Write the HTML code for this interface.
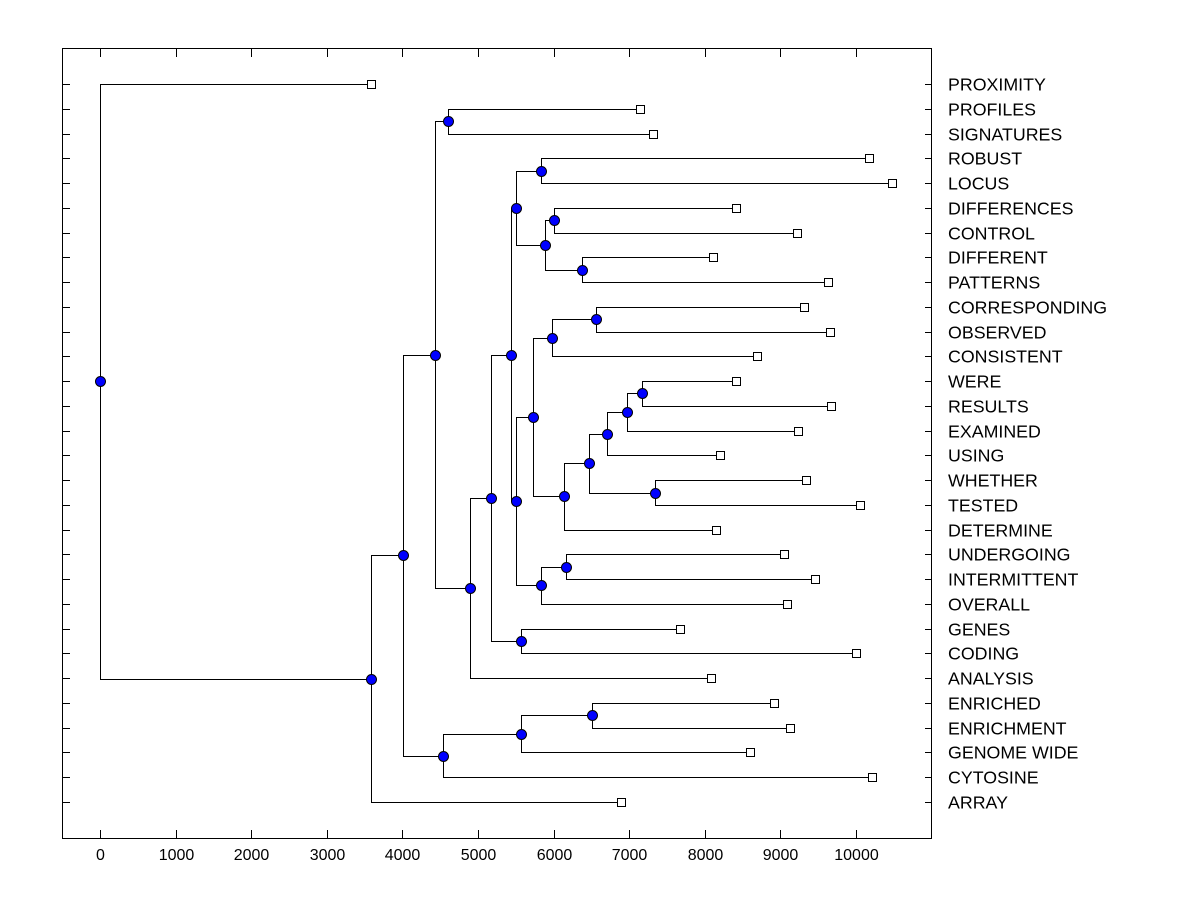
<!DOCTYPE html>
<html><head><meta charset="utf-8"><style>
body{margin:0;background:#fff;}
svg text{font-family:"Liberation Sans",Arial,sans-serif;font-size:16px;fill:#000;}
svg text.leaf{font-size:17.8px;}
</style></head><body>
<svg id="chart" width="1200" height="900" xmlns="http://www.w3.org/2000/svg">
<rect x="62.5" y="48.5" width="869" height="790" fill="none" stroke="#000" stroke-width="1"/>
<g id="axes"></g><g id="links"></g><g id="marks"></g>
</svg>
<script>
const leafLabels=["PROXIMITY","PROFILES","SIGNATURES","ROBUST","LOCUS","DIFFERENCES","CONTROL","DIFFERENT","PATTERNS","CORRESPONDING","OBSERVED","CONSISTENT","WERE","RESULTS","EXAMINED","USING","WHETHER","TESTED","DETERMINE","UNDERGOING","INTERMITTENT","OVERALL","GENES","CODING","ANALYSIS","ENRICHED","ENRICHMENT","GENOME WIDE","CYTOSINE","ARRAY"];
const leafValues=[3585,7143,7315,10172,10476,8413,9220,8108,9630,9312,9656,8690,8413,9669,9233,8201,9339,10053,8148,9048,9458,9087,7672,10000,8082,8915,9127,8598,10212,6892];
const nodeNames=["root","A","B","D","E","F","C","G","H","I","K","J","L","N","O","P","Q","M","R","T","V","U","W","X","Z","AA","Y","S","AB"];
const nodeValues=[0,3585,4008,4537,5569,6508,4431,4603,4894,5172,5569,5437,5503,5833,5886,6005,6376,5503,5728,5979,6561,6138,6468,6706,6971,7169,7341,5833,6164];
const nodeLeft=["PROXIMITY","B","C","E","F","ENRICHED","G","PROFILES","I","J","GENES","L","N","ROBUST","P","DIFFERENCES","DIFFERENT","R","T","V","CORRESPONDING","W","X","Z","AA","WERE","WHETHER","AB","UNDERGOING"];
const nodeRight=["A","ARRAY","D","CYTOSINE","GENOME WIDE","ENRICHMENT","H","SIGNATURES","ANALYSIS","K","CODING","M","O","LOCUS","Q","CONTROL","PATTERNS","S","U","CONSISTENT","OBSERVED","DETERMINE","Y","USING","EXAMINED","RESULTS","TESTED","OVERALL","INTERMITTENT"];
const xTicks=[0,1000,2000,3000,4000,5000,6000,7000,8000,9000,10000];

const NS="http://www.w3.org/2000/svg";
const xS=v=>100+v*0.0756;
const yS=i=>84+i*(802-84)/29;
function mk(tag,attrs,parent){const e=document.createElementNS(NS,tag);for(const k in attrs)e.setAttribute(k,attrs[k]);parent.appendChild(e);return e;}
const axes=document.getElementById('axes'),links=document.getElementById('links'),marks=document.getElementById('marks');
xTicks.forEach(t=>{const x=Math.round(xS(t))+0.5;
 let l=mk('line',{x1:x,x2:x,y1:838,y2:830,stroke:'#000'},axes);
 
 
 l=mk('line',{x1:x,x2:x,y1:49,y2:57,stroke:'#000'},axes);
 
 
 const tx=mk('text',{x:x,y:860,'text-anchor':'middle'},axes);tx.textContent=t;
 
 
});
const pos={},val={};
leafLabels.forEach((n,i)=>{pos[n]=yS(i);val[n]=leafValues[i];
 const y=Math.round(yS(i))+0.5;
 let l=mk('line',{x1:62,x2:70,y1:y,y2:y,stroke:'#000'},axes);
 
 
 l=mk('line',{x1:925,x2:931,y1:y,y2:y,stroke:'#000'},axes);
 
 
 const tx=mk('text',{x:948,y:y+6,'class':'leaf'},axes);tx.textContent=n;
 
 
});
nodeNames.forEach((n,i)=>{val[n]=nodeValues[i];});
function getY(n){if(pos[n]!==undefined)return pos[n];const i=nodeNames.indexOf(n);pos[n]=(getY(nodeLeft[i])+getY(nodeRight[i]))/2;return pos[n];}
nodeNames.forEach((n,i)=>{
 const x=Math.round(xS(nodeValues[i]))+0.5;
 const y1=Math.round(getY(nodeLeft[i]))+0.5,y2=Math.round(getY(nodeRight[i]))+0.5;
 const x1=Math.round(xS(val[nodeLeft[i]]))+0.5,x2=Math.round(xS(val[nodeRight[i]]))+0.5;
 const p=mk('path',{d:`M${x1},${y1}H${x}V${y2}H${x2}`,fill:'none',stroke:'#000'},links);
 
 
});
leafLabels.forEach((n,i)=>{
 const r=mk('rect',{x:Math.round(xS(leafValues[i]))-3.5,y:Math.round(yS(i))-3.5,width:8,height:8,fill:'#fff',stroke:'#000'},marks);
 
 
});
nodeNames.forEach((n,i)=>{
 const c=mk('circle',{cx:Math.round(xS(nodeValues[i]))+0.5,cy:Math.round(getY(n))+0.5,r:5,fill:'#0000ff',stroke:'#000'},marks);
 
 
});
</script>
</body></html>
